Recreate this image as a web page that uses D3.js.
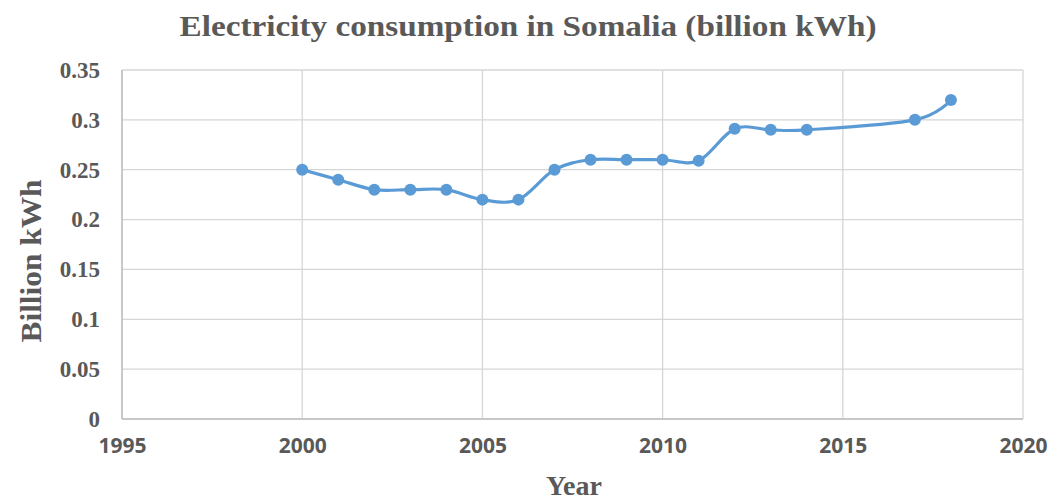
<!DOCTYPE html>
<html>
<head>
<meta charset="utf-8">
<script src="https://cdn.jsdelivr.net/npm/d3@7"></script>
<style>
  html, body { margin: 0; padding: 0; background: #fff; }
  svg { display: block; }
</style>
</head>
<body>
<svg id="chart" width="1053" height="502"></svg>
<script>
// Electricity consumption in Somalia, billion kWh per year
const years  = [2000, 2001, 2002, 2003, 2004, 2005, 2006, 2007, 2008, 2009, 2010, 2011, 2012, 2013, 2014, 2017, 2018];
const values = [0.25, 0.24, 0.23, 0.23, 0.23, 0.22, 0.22, 0.25, 0.26, 0.26, 0.26, 0.259, 0.291, 0.29, 0.29, 0.30, 0.32];
const xTicks = [1995, 2000, 2005, 2010, 2015, 2020];
const yTicks = [0, 0.05, 0.1, 0.15, 0.2, 0.25, 0.3, 0.35];

const svg = d3.select("#chart");
const margin = { left: 122, right: 30, top: 70, bottom: 83 };
const W = 1053, H = 502;

const x = d3.scaleLinear().domain([1995, 2020]).range([margin.left, W - margin.right]);
const y = d3.scaleLinear().domain([0, 0.35]).range([H - margin.bottom, margin.top]);

const grid = "#d6d6d6";
const textColor = "#595959";
const serif = "'Liberation Serif', 'Times New Roman', serif";

// horizontal gridlines
svg.append("g")
  .selectAll("line").data(yTicks).join("line")
  .attr("x1", x(1995)).attr("x2", x(2020))
  .attr("y1", d => y(d)).attr("y2", d => y(d))
  .attr("stroke", grid).attr("stroke-width", 1.3);

// vertical gridlines
svg.append("g")
  .selectAll("line").data(xTicks).join("line")
  .attr("x1", d => x(d)).attr("x2", d => x(d))
  .attr("y1", y(0)).attr("y2", y(0.35))
  .attr("stroke", grid).attr("stroke-width", 1.3);

// axis base lines
svg.append("line")
  .attr("x1", x(1995)).attr("x2", x(2020)).attr("y1", y(0)).attr("y2", y(0))
  .attr("stroke", "#bfbfbf").attr("stroke-width", 1.5);
svg.append("line")
  .attr("x1", x(1995)).attr("x2", x(1995)).attr("y1", y(0)).attr("y2", y(0.35))
  .attr("stroke", "#bfbfbf").attr("stroke-width", 1.5);

// y tick labels
const yAxis = d3.axisLeft(y).tickValues(yTicks).tickSize(0).tickPadding(22)
  .tickFormat(d => d === 0 ? "0" : String(+d.toFixed(2)));
svg.append("g")
  .attr("transform", `translate(${x(1995)},0)`)
  .call(yAxis)
  .call(g => g.select(".domain").remove())
  .call(g => g.selectAll("text")
    .attr("font-family", serif).attr("font-weight", "bold")
    .attr("font-size", 23).attr("fill", textColor));

// x tick labels
const xAxis = d3.axisBottom(x).tickValues(xTicks).tickSize(0).tickPadding(19)
  .tickFormat(d3.format("d"));
svg.append("g")
  .attr("transform", `translate(0,${y(0)})`)
  .call(xAxis)
  .call(g => g.select(".domain").remove())
  .call(g => g.selectAll("text")
    .attr("font-family", "'Open Sans', 'Liberation Sans', sans-serif").attr("font-weight", "bold")
    .attr("font-size", 21).attr("fill", textColor));

// series line
const pts = years.map((yr, i) => [yr, values[i]]);
const line = d3.line()
  .x(d => x(d[0])).y(d => y(d[1]))
  .curve(d3.curveCardinal.tension(0));
svg.append("path")
  .datum(pts)
  .attr("d", line)
  .attr("fill", "none")
  .attr("stroke", "#5b9bd5")
  .attr("stroke-width", 3.2);

// markers
svg.append("g")
  .selectAll("circle").data(pts).join("circle")
  .attr("cx", d => x(d[0])).attr("cy", d => y(d[1]))
  .attr("r", 6)
  .attr("fill", "#5b9bd5");

// chart title
svg.append("text")
  .attr("x", 528).attr("y", 36)
  .attr("text-anchor", "middle")
  .attr("font-family", serif).attr("font-weight", "bold")
  .attr("font-size", 30).attr("fill", textColor)
  .attr("textLength", 697).attr("lengthAdjust", "spacingAndGlyphs")
  .text("Electricity consumption in Somalia (billion kWh)");

// axis titles
svg.append("text")
  .attr("x", 574).attr("y", 495)
  .attr("text-anchor", "middle")
  .attr("font-family", serif).attr("font-weight", "bold")
  .attr("font-size", 28).attr("fill", textColor)
  .text("Year");

svg.append("text")
  .attr("transform", `translate(41,261) rotate(-90)`)
  .attr("text-anchor", "middle")
  .attr("font-family", serif).attr("font-weight", "bold")
  .attr("font-size", 30).attr("fill", textColor)
  .attr("textLength", 163).attr("lengthAdjust", "spacingAndGlyphs")
  .text("Billion kWh");
</script>
</body>
</html>
